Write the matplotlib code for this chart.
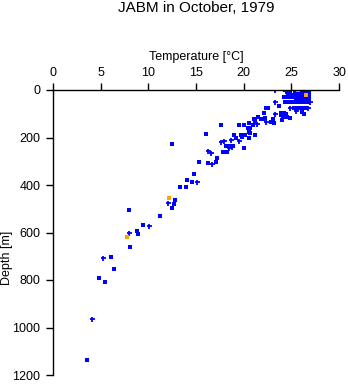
import matplotlib
matplotlib.use("Agg")
import matplotlib.pyplot as plt

plt.rcParams['font.family'] = ['Liberation Sans', 'DejaVu Sans']

title = "JABM in October, 1979"
xlabel = "Temperature [°C]"
ylabel = "Depth [m]"
xticks = [0, 5, 10, 15, 20, 25, 30]
yticks = [0, 200, 400, 600, 800, 1000, 1200]

# blue square observations (temperature degC, depth m)
sq_temp = [
    25.5, 25.8, 26.1, 26.4, 26.8,
    25.4, 25.7, 26.0, 26.3, 26.6, 26.9,
    25.4, 25.7, 26.0, 26.3, 26.6, 26.9,
    25.4, 25.7, 26.0, 26.3, 26.9,
    25.4, 25.7, 26.0, 26.3, 26.6, 26.9,
    25.5, 25.9, 26.2, 26.6, 26.9,
    24.3, 24.6, 24.9, 24.5, 24.8, 24.6, 24.9, 24.7, 25.0, 24.3, 24.7, 25.0, 24.2,
    24.3, 24.5, 24.7, 24.9, 25.3, 25.6, 25.9, 26.2, 26.5, 26.8,
    23.75, 22.3, 22.5, 25.3, 25.6, 25.9, 26.2, 26.5,
    26.1, 26.3,
    23.9, 24.2, 24.4, 23.9, 24.3, 24.5, 24.1,
    22.1, 21.5, 21.8, 22.0, 22.2, 24.9,
    22.9, 23.2, 23.1, 24.0,
    21.1, 21.2, 20.6, 21.0,
    19.5, 20.0, 17.65,
    20.5, 20.7, 20.6, 20.7,
    19.0, 19.2, 19.7, 19.8, 20.1, 20.6, 21.2,
    16.0,
    18.1, 18.6, 18.9, 20.0,
    17.8, 18.0, 18.2,
    17.2, 15.35, 16.3, 17.1,
    12.5, 14.8, 14.1, 14.6,
    13.3, 13.9, 12.8, 12.7, 12.5,
    11.26, 8.0, 9.47, 8.78, 8.95, 8.1,
    6.1, 6.43, 4.86, 5.49, 3.6,
]
sq_depth = [
    2, 2, 2, 2, 2,
    8, 8, 8, 8, 8, 8,
    15, 15, 15, 15, 15, 15,
    22, 22, 22, 22, 22,
    30, 30, 30, 30, 30, 30,
    36, 36, 36, 36, 36,
    2, 2, 2, 8, 8, 15, 15, 22, 22, 30, 30, 30, 31,
    52, 52, 52, 52, 52, 52, 52, 52, 52, 52,
    67, 75, 75, 75, 75, 75, 75, 75,
    94, 102,
    95, 97, 100, 105, 108, 112, 113,
    96, 115, 121, 121, 116, 119,
    133, 140, 124, 126,
    124, 130, 138, 147,
    147, 147, 147,
    161, 161, 176, 183,
    189, 200, 189, 198, 190, 200, 190,
    185,
    237, 234, 234, 246,
    260, 262, 262,
    288, 303, 307, 305,
    229, 355, 380, 389,
    410, 410, 462, 480, 498,
    532, 505, 568, 595, 605, 661,
    705, 755, 793, 808, 1138,
]

# blue plus-sign observations
plus_temp = [23.25, 23.25, 27.0, 24.9, 26.7, 25.5, 23.3, 22.3, 21.4,
             18.7, 19.5, 17.6, 17.9, 18.5, 18.8, 16.3, 16.6, 16.7,
             15.1, 12.06, 10.07, 7.94, 5.25, 4.06]
plus_depth = [0, 52, 52, 75, 75, 90, 101, 136, 145,
              211, 215, 220, 213, 246, 240, 257, 267, 313,
              389, 477, 574, 604, 709, 966]

# orange observations
or_temp = [25.7, 26.5, 12.2, 7.76]
or_depth = [1, 22, 456, 620]

fig = plt.figure(figsize=(3.48, 3.84), dpi=100)
ax = fig.add_axes([53 / 348, 1 - 375 / 384, 286 / 348, 285 / 384])

ax.plot(sq_temp, sq_depth, linestyle='none', marker='s', markersize=2.6,
        color='#0000ff', markeredgewidth=0)
ax.plot(plus_temp, plus_depth, linestyle='none', marker='+', markersize=3.6,
        color='#0000ff', markeredgewidth=1.3)
ax.plot(or_temp, or_depth, linestyle='none', marker='s', markersize=2.6,
        color='#ffa500', markeredgewidth=0)

ax.set_xlim(0, 30)
ax.set_ylim(1200, 0)
ax.set_xticks(xticks)
ax.set_yticks(yticks)
ax.xaxis.tick_top()
ax.xaxis.set_label_position('top')
for s in ['right', 'bottom']:
    ax.spines[s].set_visible(False)
for s in ['top', 'left']:
    ax.spines[s].set_linewidth(1.0)
ax.tick_params(axis='both', direction='out', length=5, width=1.0,
               labelsize=9, colors='black')
ax.tick_params(axis='x', pad=3)
ax.tick_params(axis='y', pad=4)
ax.set_xlabel(xlabel, fontsize=9, labelpad=5)

fig.text(7 / 348, 1 - 258 / 384, ylabel, rotation=90, fontsize=9,
         ha='center', va='center')
fig.text(196 / 348, 1 - 8 / 384, title, fontsize=11, ha='center', va='center')

fig.savefig("out.png", dpi=100)
